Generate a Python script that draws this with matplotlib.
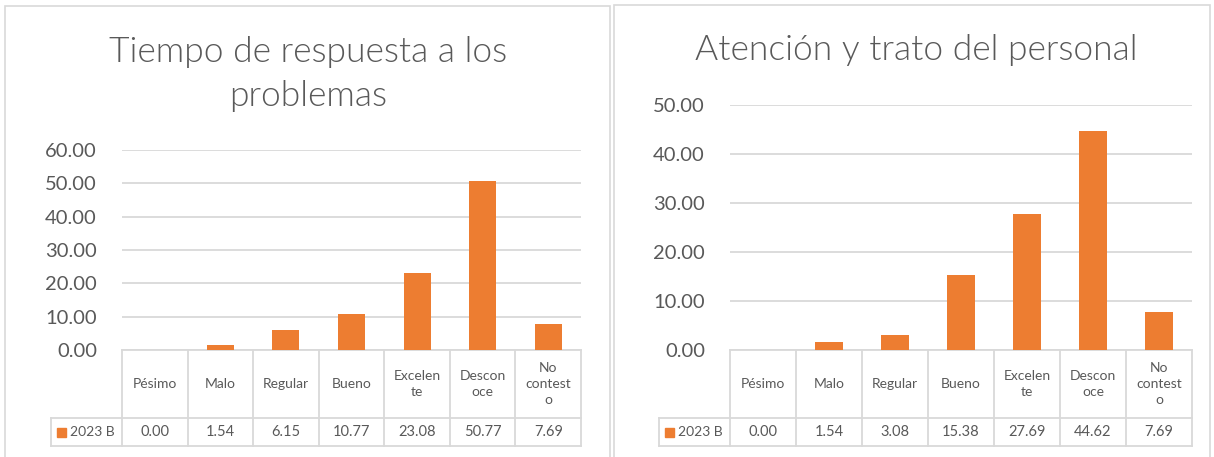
import matplotlib
matplotlib.use("Agg")
import matplotlib.pyplot as plt
from matplotlib.patches import Rectangle
from matplotlib.transforms import blended_transform_factory

# --- datos ---
categorias = ["Pésimo", "Malo", "Regular", "Bueno", "Excelen\nte", "Descon\noce", "No\ncontest\no"]
serie = "2023 B"
tiempo_respuesta = [0.00, 1.54, 6.15, 10.77, 23.08, 50.77, 7.69]
atencion_trato = [0.00, 1.54, 3.08, 15.38, 27.69, 44.62, 7.69]
titulo_1 = "Tiempo de respuesta a los\nproblemas"
titulo_2 = "Atención y trato del personal"
yticks_1 = [0, 10, 20, 30, 40, 50, 60]
yticks_2 = [0, 10, 20, 30, 40, 50]

NARANJA = "#ED7D31"
GRIS_TXT = "#595959"
GRIS_LIN = "#D9D9D9"
FUENTE = "Lato"

W, H = 1214, 457
fig = plt.figure(figsize=(W / 100, H / 100), dpi=100)
fig.patch.set_facecolor("white")


def fx(px):
    return px / W


def fy(py):
    return 1 - py / H


def grafico(x0, x1, ytop, ybot, valores, yticks, titulo, tx, ty, borde):
    # marco del gráfico
    fig.patches.append(Rectangle((fx(borde[0]), fy(borde[3])), fx(borde[2] - borde[0]),
                                 (borde[3] - borde[1]) / H, transform=fig.transFigure,
                                 fill=False, ec=GRIS_LIN, lw=1.2))
    ax = fig.add_axes([fx(x0), fy(ybot), fx(x1 - x0), (ybot - ytop) / H])
    xs = range(len(categorias))
    ax.bar(xs, valores, width=0.41, color=NARANJA, zorder=3)
    ax.set_xlim(-0.5, len(categorias) - 0.5)
    ax.set_ylim(yticks[0], yticks[-1])
    ax.set_yticks(yticks)
    ax.set_yticklabels([f"{t:.2f}" for t in yticks], fontsize=14.5, color=GRIS_TXT, family=FUENTE)
    ax.set_xticks([])
    ax.tick_params(axis="y", length=0, pad=18)
    for s in ax.spines.values():
        s.set_visible(False)
    ax.grid(axis="y", color=GRIS_LIN, lw=1.3, zorder=0)
    ax.set_axisbelow(True)
    fig.text(fx(tx), fy(ty), titulo, ha="center", va="center", fontsize=25.5,
             color=GRIS_TXT, family=FUENTE, fontweight=300, linespacing=1.5)

    # tabla de datos bajo el eje
    alto = ybot - ytop
    col_w = (x1 - x0) / len(categorias)
    tr = blended_transform_factory(ax.transData, ax.transAxes)
    fila1 = -68 / alto
    fila2 = -96 / alto
    x_leg = -0.5 - 71 / col_w
    n = len(categorias)
    kw = dict(transform=tr, clip_on=False, color=GRIS_LIN, lw=1.3)
    ax.plot([-0.5, n - 0.5], [0, 0], **kw)
    ax.plot([x_leg, n - 0.5], [fila1, fila1], **kw)
    ax.plot([x_leg, n - 0.5], [fila2, fila2], **kw)
    ax.plot([x_leg, x_leg], [fila1, fila2], **kw)
    for i in range(n + 1):
        ax.plot([i - 0.5, i - 0.5], [0, fila2], **kw)
    for i, (c, v) in enumerate(zip(categorias, valores)):
        ax.text(i, fila1 / 2, c, transform=tr, ha="center", va="center", fontsize=10,
                color=GRIS_TXT, family=FUENTE, linespacing=1.45)
        ax.text(i, (fila1 + fila2) / 2, f"{v:.2f}", transform=tr, ha="center", va="center",
                fontsize=10.5, color=GRIS_TXT, family=FUENTE)
    # clave de la serie
    sq = 9 / col_w
    ax.add_patch(Rectangle((x_leg + 6 / col_w, (fila1 + fila2) / 2 - 4.5 / alto), sq, 9 / alto,
                           transform=tr, clip_on=False, color=NARANJA))
    ax.text(x_leg + 19 / col_w, (fila1 + fila2) / 2, serie, transform=tr, ha="left", va="center",
            fontsize=10, color=GRIS_TXT, family=FUENTE)
    return ax


grafico(122, 581, 150, 350, tiempo_respuesta, yticks_1, titulo_1, 308, 74, (5, 6, 610, 470))
grafico(730, 1192, 105, 350, atencion_trato, yticks_2, titulo_2, 916, 50, (614, 5, 1210, 470))

fig.savefig("out.png", dpi=100)
